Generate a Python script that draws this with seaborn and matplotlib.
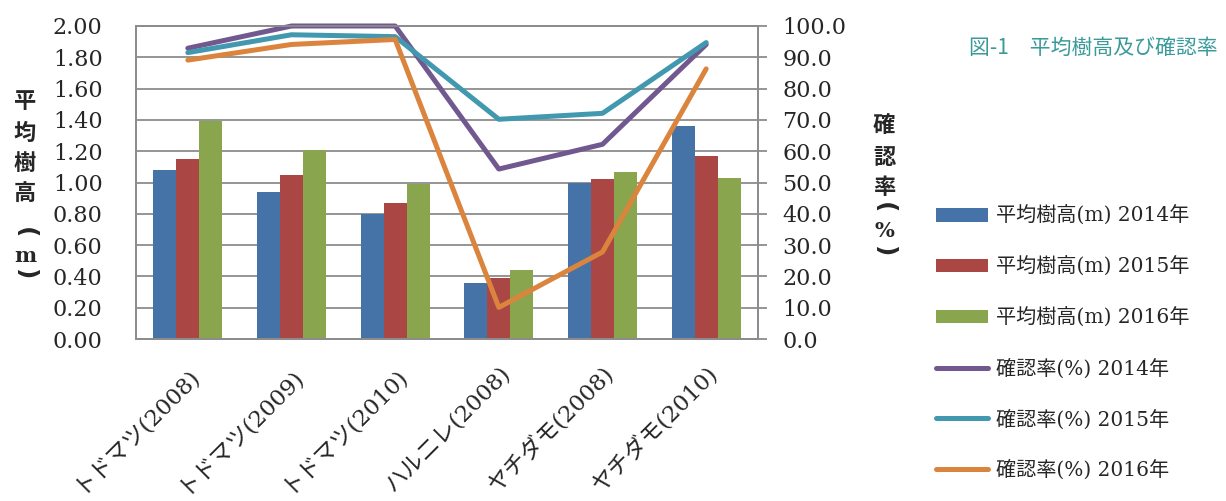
import numpy as np
import pandas as pd
import matplotlib
matplotlib.use("Agg")
import matplotlib.pyplot as plt
import seaborn as sns
from matplotlib.patches import Patch
from matplotlib.lines import Line2D

# ---------------- data ----------------
categories = ["トドマツ(2008)", "トドマツ(2009)", "トドマツ(2010)",
              "ハルニレ(2008)", "ヤチダモ(2008)", "ヤチダモ(2010)"]
years = ["2014年", "2015年", "2016年"]
height_2014 = [1.08, 0.94, 0.80, 0.36, 1.00, 1.36]
height_2015 = [1.15, 1.05, 0.87, 0.39, 1.02, 1.17]
height_2016 = [1.39, 1.21, 0.99, 0.44, 1.07, 1.03]
rate_2014 = [92.9, 100.0, 100.0, 54.3, 62.2, 94.1]
rate_2015 = [91.5, 97.2, 96.6, 70.2, 72.1, 94.7]
rate_2016 = [89.1, 94.1, 95.7, 10.1, 27.8, 86.3]
left_ticks = [0.0, 0.2, 0.4, 0.6, 0.8, 1.0, 1.2, 1.4, 1.6, 1.8, 2.0]
right_ticks = [0, 10, 20, 30, 40, 50, 60, 70, 80, 90, 100]
title_text = "図-1\u3000平均樹高及び確認率"
left_label = ["平", "均", "樹", "高", "(", "m", ")"]
right_label = ["確", "認", "率", "(", "%", ")"]

bar_names = ["平均樹高(m) " + y for y in years]
line_names = ["確認率(%) " + y for y in years]
bar_colors = ["#4572A7", "#AA4643", "#89A54E"]
line_colors = ["#71588F", "#4198AF", "#DB843D"]

heights = [height_2014, height_2015, height_2016]
rates = [rate_2014, rate_2015, rate_2016]
df_h = pd.concat([pd.DataFrame({"cat": categories, "val": h, "series": n})
                  for h, n in zip(heights, bar_names)], ignore_index=True)
df_r = pd.concat([pd.DataFrame({"pos": np.arange(len(categories)), "val": r, "series": n})
                  for r, n in zip(rates, line_names)], ignore_index=True)

# ---------------- style ----------------
sns.set_style("white")
plt.rcParams["font.family"] = ["DejaVu Serif", "Noto Sans CJK JP"]
GRAY = "#8c8c8c"

W, H = 1226, 501
fig = plt.figure(figsize=(W / 100, H / 100), dpi=100)
ax = fig.add_axes([136 / W, 162 / H, 622 / W, 313 / H])

sns.barplot(data=df_h, x="cat", y="val", hue="series", hue_order=bar_names,
            palette=bar_colors, width=0.665, linewidth=0, saturation=1,
            ax=ax, legend=False)
ax.set_xlim(-0.5, len(categories) - 0.5)
ax.set_ylim(0, 2.0)
ax.set_yticks(left_ticks)
ax.set_yticklabels([f"{v:.2f}" for v in left_ticks])
ax.set_xlabel("")
ax.set_ylabel("")
ax.yaxis.grid(True, color=GRAY, linewidth=1.3)
ax.set_axisbelow(True)
ax.tick_params(axis="y", length=0, pad=24, labelsize=16)
ax.tick_params(axis="x", length=0, pad=17)
ax.set_xticks(range(len(categories)))
ax.set_xticklabels(categories, rotation=45, ha="right", va="top",
                   rotation_mode="anchor", fontsize=16.5)
for s in ax.spines.values():
    s.set_color(GRAY)
    s.set_linewidth(1.3)

ax2 = ax.twinx()
sns.lineplot(data=df_r, x="pos", y="val", hue="series", hue_order=line_names,
             palette=line_colors, linewidth=3.6, sort=False, ax=ax2, legend=False)
for ln in ax2.lines:
    ln.set_solid_capstyle("round")
    ln.set_solid_joinstyle("round")
    ln.set_clip_on(False)
ax2.set_ylim(0, 100)
ax2.set_yticks(right_ticks)
ax2.set_yticklabels([f"{v:.1f}" for v in right_ticks])
ax2.set_xlabel("")
ax2.set_ylabel("")
ax2.tick_params(axis="y", direction="out", length=6.5, width=1.3, color=GRAY,
                pad=11, labelsize=16)
ax2.set_xlim(-0.5, len(categories) - 0.5)
for s in ax2.spines.values():
    s.set_color(GRAY)
    s.set_linewidth(1.3)

# axis titles as stacked vertical characters
def stack(chars, ys, x):
    for ch, yy in zip(chars, ys):
        if ch in "()":
            fig.text(x / W, 1 - yy / H, ch, ha="center", va="center", rotation=-90,
                     fontsize=18, fontweight="bold", family=["DejaVu Sans"])
        elif ch in "m%":
            fig.text(x / W, 1 - yy / H, ch, ha="center", va="center",
                     fontsize=15, fontweight="bold", family=["DejaVu Serif"])
        else:
            fig.text(x / W, 1 - yy / H, ch, ha="center", va="center",
                     fontsize=16, fontweight="bold", family=["Noto Sans CJK JP"])

stack(left_label, [102, 133, 164, 193, 233, 256, 275], 25)
stack(right_label, [126, 157, 187, 208, 231, 252], 884)

# title
fig.text(969 / W, 1 - 48 / H, title_text, ha="left", va="center",
         color="#3A9A9A", fontsize=15, family=["Noto Sans CJK JP"])

# legend
handles = [Patch(facecolor=c, edgecolor="none") for c in bar_colors] + \
          [Line2D([0], [0], color=c, linewidth=3.6, solid_capstyle="round") for c in line_colors]
fig.legend(handles, bar_names + line_names, loc="center left",
           bbox_to_anchor=(936 / W, 1 - 343 / H), frameon=False, fontsize=14.5,
           handlelength=2.6, handleheight=0.65, labelspacing=1.52,
           handletextpad=0.4, borderpad=0, borderaxespad=0)

fig.savefig("out.png", dpi=100)
